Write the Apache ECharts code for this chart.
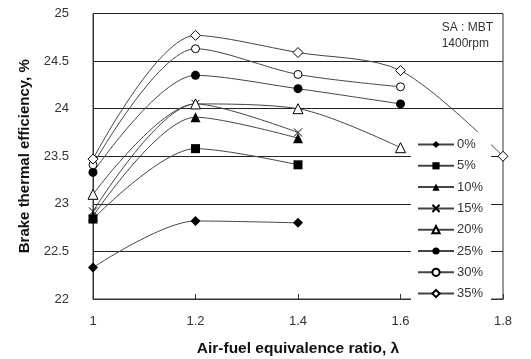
<!DOCTYPE html>
<html><head><meta charset="utf-8">
<script src="https://cdn.jsdelivr.net/npm/echarts@6/dist/echarts.min.js"></script>
<style>html,body{margin:0;padding:0;background:#fff}#c{width:531px;height:359px}</style>
</head><body><div id="c"></div>
<script>
const lambdas = [1, 1.2, 1.4, 1.6, 1.8];
const seriesNames = ['0%', '5%', '10%', '15%', '20%', '25%', '30%', '35%'];
const eff0 = [22.33, 22.82, 22.80];
const eff5 = [22.84, 23.58, 23.41];
const eff10 = [22.87, 23.91, 23.69];
const eff15 = [22.92, 24.05, 23.75];
const eff20 = [23.10, 24.05, 24.00, 23.59];
const eff25 = [23.33, 24.35, 24.21, 24.05];
const eff30 = [23.41, 24.63, 24.36, 24.23];
const eff35 = [23.47, 24.77, 24.59, 24.40, 23.50];
const yTicks = ['22', '22.5', '23', '23.5', '24', '24.5', '25'];
const xTicks = ['1', '1.2', '1.4', '1.6', '1.8'];
const noteLines = ['SA : MBT', '1400rpm'];

const allVals = [eff0, eff5, eff10, eff15, eff20, eff25, eff30, eff35];
const xPath = 'path://M0,0L10,10M10,0L0,10';
const symbols = [
  {symbol: 'diamond', size: 10, color: '#000'},
  {symbol: 'rect', size: 9, color: '#000'},
  {symbol: 'triangle', size: 10, color: '#000'},
  {symbol: xPath, size: 8, color: '#000', border: 1},
  {symbol: 'triangle', size: 10, color: '#fff', border: 1},
  {symbol: 'circle', size: 9, color: '#000'},
  {symbol: 'circle', size: 8, color: '#fff', border: 1},
  {symbol: 'diamond', size: 10, color: '#fff', border: 1}
];
const FONT = '"Liberation Sans", Arial, sans-serif';

const series = allVals.map((vals, i) => {
  const s = symbols[i];
  return {
    name: seriesNames[i],
    type: 'line',
    smooth: 0.3,
    data: vals.map((v, j) => [lambdas[j], v]),
    symbol: s.symbol,
    symbolSize: s.size,
    showSymbol: true,
    lineStyle: {color: '#444', width: 1},
    itemStyle: {color: s.color, borderColor: '#000', borderWidth: s.border || 0},
    emphasis: {disabled: true},
    z: 3
  };
});

const chart = echarts.init(document.getElementById('c'), null, {renderer: 'canvas'});
chart.setOption({
  animation: false,
  backgroundColor: '#fff',
  textStyle: {fontFamily: FONT},
  grid: {left: 93, right: 28, top: 13.5, bottom: 60, show: true, borderColor: '#333', borderWidth: 1,
    backgroundColor: 'transparent', outerBoundsMode: 'none', containLabel: false},
  xAxis: {
    type: 'value', min: 1, max: 1.8, interval: 0.2,
    axisLine: {show: true, onZero: false, lineStyle: {color: '#333', width: 1}},
    axisTick: {show: true, inside: true, length: 5, lineStyle: {color: '#333'}},
    splitLine: {show: false},
    axisLabel: {color: '#333', fontSize: 13, margin: 16, fontFamily: FONT,
      formatter: (v) => { const i = Math.round((v - 1) / 0.2); return xTicks[i] !== undefined ? xTicks[i] : ''; }},
    name: 'Air-fuel equivalence ratio, λ', nameLocation: 'middle', nameGap: 42,
    nameTextStyle: {color: '#111', fontSize: 15.5, fontWeight: 'bold', fontFamily: FONT}
  },
  yAxis: {
    type: 'value', min: 22, max: 25, interval: 0.5,
    axisLine: {show: true, lineStyle: {color: '#333', width: 1}},
    axisTick: {show: false},
    splitLine: {show: true, lineStyle: {color: '#222', width: 1}},
    axisLabel: {color: '#333', fontSize: 13, margin: 24, fontFamily: FONT,
      formatter: (v) => { const i = Math.round((v - 22) / 0.5); return yTicks[i] !== undefined ? yTicks[i] : ''; }},
    name: 'Brake thermal efficiency, %', nameLocation: 'middle', nameGap: 60, nameRotate: 90,
    nameTextStyle: {color: '#111', fontSize: 15, fontWeight: 'bold', fontFamily: FONT}
  },
  legend: {
    orient: 'vertical', left: 411, top: 132, padding: [6, 8, 3, 6],
    backgroundColor: '#fff', itemWidth: 36, itemHeight: 9, itemGap: 8.3,
    textStyle: {color: '#333', fontSize: 13, fontFamily: FONT, padding: [0, 0, 0, -2]},
    data: seriesNames, z: 4
  },
  graphic: [{
    type: 'text', right: 38, top: 20, z: 5,
    style: {text: noteLines.join('\n'), font: '12px ' + FONT, fill: '#333', align: 'right', lineHeight: 16}
  }],
  series: series
});
</script></body></html>
